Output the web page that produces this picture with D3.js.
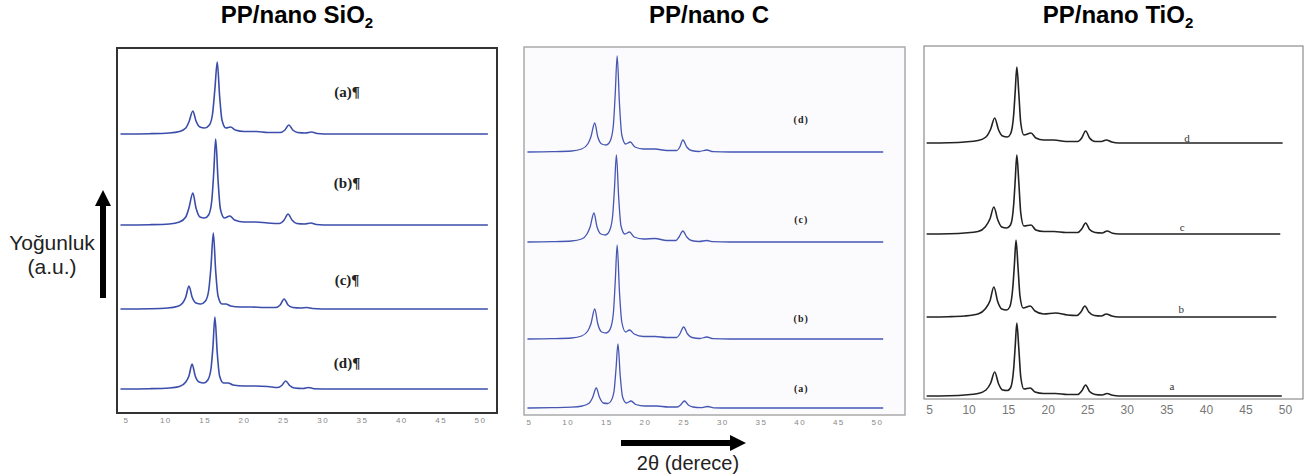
<!DOCTYPE html>
<html>
<head>
<meta charset="utf-8">
<script src="https://cdn.jsdelivr.net/npm/d3@7"></script>
<style>
body { margin: 0; background: #fff; }
svg text { font-family: "Liberation Sans", Arial, sans-serif; }
</style>
</head>
<body>
<svg id="chart" width="1305" height="476"></svg>
<script>
// 2θ tick labels shared by the three panels
const ticks = [5, 10, 15, 20, 25, 30, 35, 40, 45, 50];

// PP/nano SiO2 : [2θ, intensity a.u.]
const sio2A = [[4.3,0],[8,0.3],[10.5,1],[11.8,2.5],[12.6,6],[13.0,12],[13.5,23],[13.9,13],[14.4,7],[15.0,6],[15.6,9],[16.0,20],[16.3,45],[16.6,72],[16.9,38],[17.2,14],[17.7,6],[18.3,7],[18.9,4],[20.0,2.5],[21.6,2.5],[23.0,1.5],[24.6,1.5],[25.2,4],[25.7,9],[26.2,4],[26.8,1.5],[27.8,1],[28.6,2],[29.3,0.5],[31,0],[51,0]];
const sio2B = [[4.3,0],[8,0.3],[10.5,1],[11.8,3],[12.6,8],[13.0,17],[13.5,32],[13.9,17],[14.4,8],[15.0,7],[15.5,10],[15.9,24],[16.15,52],[16.4,86],[16.7,45],[17.0,16],[17.5,7],[18.2,9],[18.8,5],[20.0,3],[21.5,3],[23.0,2],[24.5,1.5],[25.1,5],[25.6,11],[26.1,5],[26.7,1.5],[27.7,1],[28.5,2],[29.2,0.5],[31,0],[51,0]];
const sio2C = [[4.3,0],[8,0.3],[10.3,1],[11.5,2.5],[12.2,6],[12.6,12],[13.0,23],[13.4,12],[13.9,6],[14.5,5],[15.1,8],[15.5,18],[15.8,42],[16.1,76],[16.4,38],[16.7,13],[17.2,5],[17.7,5],[18.3,3],[19.5,2],[21.0,2],[22.5,1.5],[24.0,1.5],[24.6,4],[25.1,10],[25.6,4],[26.2,1.5],[27.2,1],[28.0,1.5],[28.7,0.5],[31,0],[51,0]];
const sio2D = [[4.3,0],[8,0.3],[10.5,1],[11.8,2.5],[12.6,7],[13.0,13],[13.4,25],[13.8,13],[14.3,7],[14.9,6],[15.4,9],[15.8,20],[16.05,42],[16.3,72],[16.6,36],[16.9,13],[17.4,6],[18.0,6],[18.6,4],[20.0,3],[21.5,3],[23.0,2.5],[24.3,1.5],[24.8,3.5],[25.3,8],[25.8,3.5],[26.4,1],[27.5,0.5],[28.2,1.5],[28.9,0.3],[31,0],[51,0]];
const sio2Labels = ['(a)¶', '(b)¶', '(c)¶', '(d)¶'];
const sio2Shift = [255, 164, 80, 0];

// PP/nano C
const cD = [[4.8,0],[8,0.3],[10.5,1],[11.8,3],[12.6,8],[13.0,15],[13.5,29],[13.9,15],[14.4,8],[15.0,7],[15.5,11],[15.9,26],[16.15,58],[16.4,96],[16.7,48],[17.0,17],[17.5,8],[18.1,10],[18.7,5],[19.8,3],[21.3,3],[22.8,1.5],[24.1,1.5],[24.5,5],[24.9,12],[25.4,5],[26.0,1.5],[27.0,0.5],[28.0,2],[28.8,0.3],[31,0],[50.8,0]];
const cC = [[4.8,0],[8,0.3],[10.5,1],[11.8,3],[12.5,8],[12.9,15],[13.4,29],[13.8,15],[14.3,8],[14.9,7],[15.4,11],[15.8,25],[16.05,53],[16.3,87],[16.6,44],[16.9,16],[17.4,8],[18.0,10],[18.6,5],[19.8,3],[21.3,3.5],[22.8,1.5],[24.0,1.5],[24.4,5],[24.9,11],[25.4,5],[26.0,1.5],[27.0,0.5],[28.0,1.5],[28.8,0.3],[31,0],[50.8,0]];
const cB = [[4.8,0],[8,0.3],[10.5,1],[11.8,3],[12.6,8],[13.0,15],[13.5,30],[13.9,15],[14.4,7],[15.0,6],[15.5,10],[15.9,25],[16.15,57],[16.4,94],[16.7,47],[17.0,17],[17.5,7],[18.0,9],[18.6,5],[19.8,2.5],[21.3,2.5],[22.8,1.5],[24.1,1.5],[24.5,5],[25.0,12],[25.5,5],[26.1,1.5],[27.1,0.5],[28.0,2],[28.8,0.3],[31,0],[50.8,0]];
const cA = [[4.8,0],[8,0.3],[10.5,0.8],[11.9,2],[12.8,5],[13.2,10],[13.7,20],[14.1,11],[14.6,5],[15.2,4.5],[15.6,7],[16.0,17],[16.25,39],[16.5,64],[16.8,32],[17.1,11],[17.6,5],[18.2,7],[18.8,3.5],[20.0,2],[21.5,2],[23.0,1],[24.2,1],[24.6,3],[25.1,7],[25.6,3],[26.2,1],[27.2,0.3],[28.1,1.5],[28.9,0.2],[31,0],[50.8,0]];
const cLabels = ['(d)', '(c)', '(b)', '(a)'];
const cShift = [256, 166, 69, 0];

// PP/nano TiO2
const tiD = [[4.7,0],[7.5,0.3],[9.5,1],[11.2,2.5],[12.2,6],[12.8,14],[13.3,25],[13.8,13],[14.3,7],[14.9,6],[15.3,9],[15.7,28],[15.9,52],[16.1,76],[16.35,50],[16.6,20],[17.0,8],[17.9,10],[18.5,5],[19.5,3],[20.8,3],[22.3,1.5],[23.8,1.5],[24.3,5],[24.8,12],[25.3,5],[26.0,1.5],[26.8,1.5],[27.4,3],[28.1,1],[29.0,0],[49.7,0]];
const tiC = [[4.7,0],[7.5,0.3],[9.5,1],[11.2,2.5],[12.1,7],[12.7,15],[13.2,27],[13.7,14],[14.2,7],[14.8,6],[15.3,9],[15.7,29],[15.9,54],[16.1,79],[16.35,52],[16.6,21],[17.0,8],[17.9,9],[18.5,4],[19.5,2.5],[20.8,2.5],[22.3,1.5],[23.8,1.5],[24.3,5],[24.8,11],[25.3,4.5],[26.0,1.5],[26.9,1],[27.5,3],[28.2,0.8],[29.0,0],[49.4,0]];
const tiB = [[4.7,0],[7.5,0.3],[9.5,1],[11.2,3],[12.1,8],[12.7,16],[13.2,30],[13.7,15],[14.2,8],[14.8,7],[15.2,10],[15.6,30],[15.8,53],[16.0,77],[16.25,50],[16.5,21],[16.9,9],[17.8,11],[18.4,6],[19.5,3],[21.0,4],[22.5,2],[23.7,1.5],[24.2,5],[24.7,11],[25.2,5],[25.9,1.5],[26.8,1],[27.4,3],[28.1,1],[29.0,0],[48.9,0]];
const tiA = [[4.7,0],[7.5,0.3],[9.5,1],[11.2,2.5],[12.2,6],[12.8,13],[13.3,24],[13.8,12],[14.3,6],[14.9,5.5],[15.3,8],[15.7,27],[15.9,50],[16.1,73],[16.35,48],[16.6,19],[17.0,7],[17.8,8],[18.4,4],[19.5,2.5],[21.0,2.5],[22.5,1.5],[23.8,1.5],[24.3,5],[24.8,11],[25.3,4.5],[26.0,1.5],[26.9,1],[27.5,2.5],[28.2,0.8],[29.0,0],[49.6,0]];
const tiLabels = ['d', 'c', 'b', 'a'];
const tiShift = [253, 162, 79, 0];

const svg = d3.select('#chart');

const panels = [
    { title: 'PP/nano SiO', sub: '2', tx: 297,
      series: [sio2A, sio2B, sio2C, sio2D], shift: sio2Shift, labels: sio2Labels,
      box: [117, 48, 497, 413], fill: '#fff', frame: '#333', frameW: 2,
      xr: [126, 480], base: 389, stroke: '#3b4dab', sw: 1.6,
      labX: [33.1, 33.1, 33.1, 33.1], labY: [42, 42, 29, 26],
      labFont: 'bold 15px "Liberation Serif", serif', labFill: '#222', labSpace: 0,
      tickY: 417, tickFont: 8, tickFill: '#888', tickSpace: 1.5 },
    { title: 'PP/nano C', sub: '', tx: 709,
      series: [cD, cC, cB, cA], shift: cShift, labels: cLabels,
      box: [524, 47, 905, 415], fill: '#fbfbfd', frame: '#aaa', frameW: 1.5,
      xr: [529, 877], base: 408, stroke: '#4656b2', sw: 1.3,
      labX: [40.2, 40.2, 40.2, 40.2], labY: [33, 23, 21, 20],
      labFont: 'bold 10px "Liberation Serif", serif', labFill: '#222', labSpace: 1,
      tickY: 419, tickFont: 8, tickFill: '#888', tickSpace: 1.5 },
    { title: 'PP/nano TiO', sub: '2', tx: 1118,
      series: [tiD, tiC, tiB, tiA], shift: tiShift, labels: tiLabels,
      box: [924, 46, 1303, 399], fill: '#fff', frame: '#777', frameW: 1,
      xr: [929, 1285], base: 396, stroke: '#222', sw: 1.6,
      labX: [37.6, 37.0, 36.9, 35.7], labY: [5, 7, 8, 10],
      labFont: '11px "Liberation Serif", serif', labFill: '#333', labSpace: 0,
      tickY: 405.5, tickFont: 12, tickFill: '#777', tickSpace: 0 }
];

panels.forEach(function (p) {
    const g = svg.append('g');
    const x = d3.scaleLinear().domain([5, 50]).range(p.xr);
    const y = d3.scaleLinear().domain([0, 300]).range([p.base, p.base - 300]);

    g.append('rect')
        .attr('x', p.box[0]).attr('y', p.box[1])
        .attr('width', p.box[2] - p.box[0]).attr('height', p.box[3] - p.box[1])
        .attr('fill', p.fill).attr('stroke', p.frame).attr('stroke-width', p.frameW);

    const line = d3.line()
        .x(d => x(d[0]))
        .y(d => y(d[1]))
        .curve(d3.curveMonotoneX);

    p.series.forEach(function (s, i) {
        g.append('path')
            .datum(s.map(d => [d[0], d[1] + p.shift[i]]))
            .attr('d', line)
            .attr('fill', 'none')
            .attr('stroke', p.stroke)
            .attr('stroke-width', p.sw)
            .attr('stroke-linejoin', 'round');

        g.append('text')
            .attr('x', x(p.labX[i]))
            .attr('y', y(p.shift[i] + p.labY[i]))
            .attr('dy', '0.35em')
            .attr('text-anchor', 'middle')
            .style('font', p.labFont)
            .style('letter-spacing', p.labSpace + 'px')
            .attr('fill', p.labFill)
            .text(p.labels[i]);
    });

    const ax = g.append('g')
        .attr('transform', 'translate(0,' + p.tickY + ')')
        .call(d3.axisBottom(x).tickValues(ticks).tickSize(0).tickPadding(0));
    ax.select('.domain').remove();
    ax.selectAll('text')
        .attr('font-family', '"Liberation Sans", Arial, sans-serif')
        .attr('font-size', p.tickFont)
        .attr('fill', p.tickFill)
        .style('letter-spacing', p.tickSpace + 'px');

    const t = svg.append('text')
        .attr('x', p.tx).attr('y', 23)
        .attr('text-anchor', 'middle')
        .attr('font-size', 24).attr('font-weight', 'bold')
        .attr('fill', '#000')
        .text(p.title);
    if (p.sub) {
        t.append('tspan').attr('dy', 5).attr('font-size', 15).text(p.sub);
    }
});

// y axis label + arrow
svg.append('text').attr('x', 52).attr('y', 250).attr('text-anchor', 'middle')
    .attr('font-size', 21).attr('fill', '#222').text('Yoğunluk');
svg.append('text').attr('x', 52).attr('y', 274).attr('text-anchor', 'middle')
    .attr('font-size', 21).attr('fill', '#222').text('(a.u.)');
svg.append('path')
    .attr('d', 'M100,298 L100,206 L95,206 L103,190 L111,206 L106,206 L106,298 Z')
    .attr('fill', '#000');

// x axis label + arrow
svg.append('path')
    .attr('d', 'M621,440 L730,440 L730,435 L746,443 L730,451 L730,446 L621,446 Z')
    .attr('fill', '#000');
svg.append('text').attr('x', 688).attr('y', 470).attr('text-anchor', 'middle')
    .attr('font-size', 20).attr('fill', '#222').text('2θ (derece)');
</script>
</body>
</html>
